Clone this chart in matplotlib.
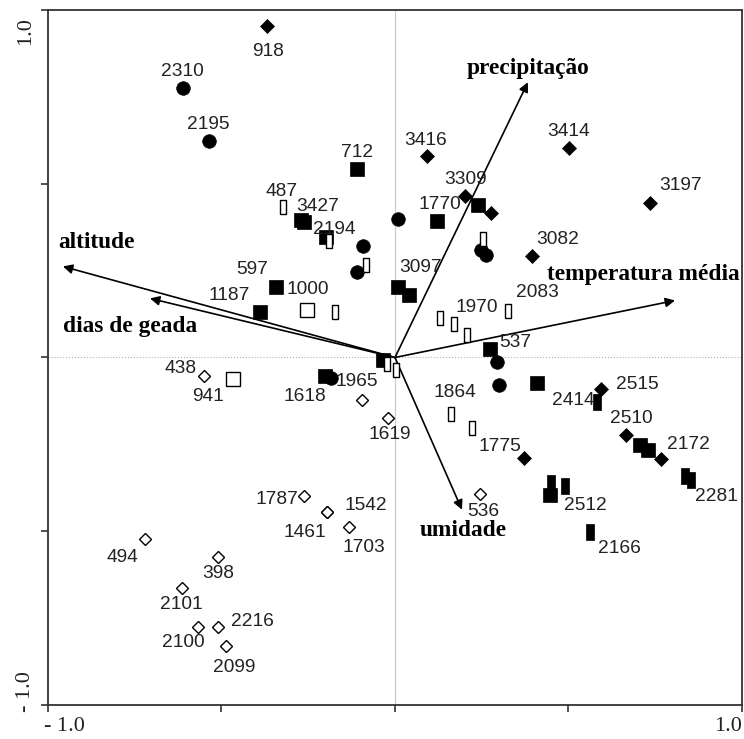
import matplotlib
matplotlib.use('Agg')
import matplotlib.pyplot as plt

# Ordination scores (axis 1, axis 2)
# filled diamonds
fd_x = [-0.369, 0.092, 0.501, 0.202, 0.277, 0.735, 0.395, 0.372, 0.594, 0.666, 0.767]
fd_y = [0.954, 0.579, 0.602, 0.464, 0.415, 0.444, 0.291, -0.288, -0.092, -0.222, -0.291]
fd_lab = ['918', '3416', '3414', '3309', '', '3197', '3082', '1775', '2515', '2510', '2172']

# filled circles
fc_x = [-0.611, -0.536, -0.092, 0.009, -0.110, 0.248, 0.262, 0.294, 0.300, -0.184]
fc_y = [0.775, 0.622, 0.320, 0.398, 0.245, 0.308, 0.294, -0.012, -0.078, -0.058]
fc_lab = ['2310', '2195', '2194', '', '', '', '', '', '', '1965']

# filled squares
fs_x = [-0.110, -0.271, -0.262, -0.199, 0.121, 0.239, -0.343, -0.389, 0.009, 0.040,
        -0.035, 0.274, 0.409, 0.706, 0.729, 0.447, -0.202]
fs_y = [0.542, 0.395, 0.389, 0.346, 0.392, 0.438, 0.202, 0.130, 0.202, 0.179,
        -0.006, 0.023, -0.072, -0.251, -0.265, -0.395, -0.052]
fs_lab = ['712', '3427', '', '', '1770', '', '597', '1187', '3097', '',
          '', '537', '2414', '', '', '2512', '1618']

# filled narrow rectangles
fr_x = [0.582, 0.450, 0.490, 0.562, 0.836, 0.853]
fr_y = [-0.127, -0.360, -0.369, -0.501, -0.340, -0.352]
fr_lab = ['', '', '', '2166', '', '2281']

# open narrow rectangles
or_x = [-0.323, -0.190, -0.084, -0.173, 0.254, 0.130, 0.170, 0.207, 0.326, -0.023, 0.003, 0.161, 0.222]
or_y = [0.432, 0.334, 0.265, 0.130, 0.340, 0.115, 0.095, 0.066, 0.133, -0.020, -0.035, -0.164, -0.202]
or_lab = ['487', '', '', '', '', '', '', '1970', '2083', '', '', '1864', '']

# open squares
os_x = [-0.254, -0.467]
os_y = [0.138, -0.061]
os_lab = ['1000', '941']

# open diamonds
od_x = [-0.550, -0.095, -0.020, -0.262, -0.196, -0.196, -0.133, -0.720, -0.510, -0.614,
        -0.568, -0.510, -0.487, 0.245]
od_y = [-0.052, -0.121, -0.173, -0.398, -0.444, -0.444, -0.487, -0.522, -0.573, -0.663,
        -0.775, -0.775, -0.830, -0.392]
od_lab = ['438', '', '1619', '1787', '1542', '1461', '1703', '494', '398', '2101',
          '2100', '2216', '2099', '536']

# environmental vectors
env_names = ['altitude', 'dias de geada', 'precipitação', 'temperatura média', 'umidade']
env_x = [-0.957, -0.706, 0.383, 0.807, 0.193]
env_y = [0.262, 0.170, 0.792, 0.164, -0.438]

# label placement (pixel offsets from each point)
lab_off = {
    '918': (1, -26), '3416': (-1, 16), '3414': (0, 17), '3309': (0, 17), '3197': (30, 18),
    '3082': (26, 17), '1775': (-24, 11), '2515': (36, 5), '2510': (5, 16), '2172': (27, 14),
    '2310': (-1, 17), '2195': (-1, 17), '2194': (-29, 17), '1965': (26, -4),
    '712': (0, 17), '3427': (17, 14), '1770': (3, 17), '597': (-24, 18), '1187': (-31, 17),
    '3097': (22, 20), '537': (25, 7), '2414': (36, -18), '2512': (35, -11), '1618': (-20, -21),
    '2166': (29, -17), '2281': (25, -17),
    '487': (-1, 16), '1970': (10, 27), '2083': (29, 19), '1864': (4, 22),
    '1000': (1, 20), '941': (-25, -18),
    '438': (-24, 7), '1619': (2, -17), '1787': (-27, -4), '1542': (39, 6), '1461': (-22, -21),
    '1703': (15, -21), '494': (-23, -19), '398': (0, -17), '2101': (-1, -17), '2100': (-15, -16),
    '2216': (34, 5), '2099': (8, -22), '536': (3, -18),
}
env_lab_pos = [(-0.859, 0.331), (-0.764, 0.089), (0.383, 0.833), (0.715, 0.239), (0.196, -0.499)]

rect = [(-0.5, -1), (0.5, -1), (0.5, 1), (-0.5, 1), (-0.5, -1)]

fig = plt.figure(figsize=(7.44, 7.39), dpi=100)
ax = fig.add_axes([0.0645, 0.046, 0.9328, 0.9405])
ax.set_xlim(-1, 1)
ax.set_ylim(-1, 1)

ax.axhline(0, color='#b0b0b0', lw=0.8, ls=':', zorder=0)
ax.axvline(0, color='#c8c8c8', lw=0.8, zorder=0)

# arrows
for name, tx, ty, (lx, ly) in zip(env_names, env_x, env_y, env_lab_pos):
    ax.annotate('', xy=(tx, ty), xytext=(0, 0),
                arrowprops=dict(arrowstyle='-|>', color='black', lw=1.2,
                                mutation_scale=14, shrinkA=0, shrinkB=0), zorder=2)
    ax.text(lx, ly, name, ha='center', va='center', fontsize=16.8, fontweight='bold',
            family='Liberation Serif', zorder=4)

groups = [
    (fd_x, fd_y, fd_lab, dict(marker='D', ms=6.8, mfc='black', mec='black', mew=0.5)),
    (fc_x, fc_y, fc_lab, dict(marker='o', ms=9.8, mfc='black', mec='black', mew=0.5)),
    (fs_x, fs_y, fs_lab, dict(marker='s', ms=10, mfc='black', mec='black', mew=0.5)),
    (fr_x, fr_y, fr_lab, dict(marker=rect, ms=11, mfc='black', mec='black', mew=0.5)),
    (or_x, or_y, or_lab, dict(marker=rect, ms=9.4, mfc='white', mec='black', mew=1.0)),
    (os_x, os_y, os_lab, dict(marker='s', ms=10, mfc='white', mec='black', mew=1.0)),
    (od_x, od_y, od_lab, dict(marker='D', ms=5.8, mfc='white', mec='black', mew=1.0)),
]

for gx, gy, glab, style in groups:
    ax.plot(gx, gy, ls='none', zorder=3, **style)
    for x, y, lab in zip(gx, gy, glab):
        if lab:
            dx, dy = lab_off[lab]
            ax.annotate(lab, (x, y), xytext=(dx, dy), textcoords='offset pixels',
                        ha='center', va='center', fontsize=13.8, color='#222222',
                        family='Liberation Sans', zorder=4)

# axes frame and ticks
ax.set_xticks([-1, -0.5, 0, 0.5, 1])
ax.set_yticks([-1, -0.5, 0, 0.5, 1])
ax.set_xticklabels([])
ax.set_yticklabels([])
ax.tick_params(direction='out', length=5, width=1.2, color='#333333')
for sp in ax.spines.values():
    sp.set_linewidth(1.3)
    sp.set_color('#333333')

tfont = dict(family='Liberation Serif', fontsize=16, color='#222222')
ax.text(-0.019, 0.97, '1.0', transform=ax.transAxes, rotation=90, ha='right', va='center', **tfont)
ax.text(-0.019, 0.02, '- 1.0', transform=ax.transAxes, rotation=90, ha='right', va='center', **tfont)
ax.text(0.024, -0.017, '- 1.0', transform=ax.transAxes, ha='center', va='top', **tfont)
ax.text(0.98, -0.017, '1.0', transform=ax.transAxes, ha='center', va='top', **tfont)

fig.savefig('out.png', dpi=100)
